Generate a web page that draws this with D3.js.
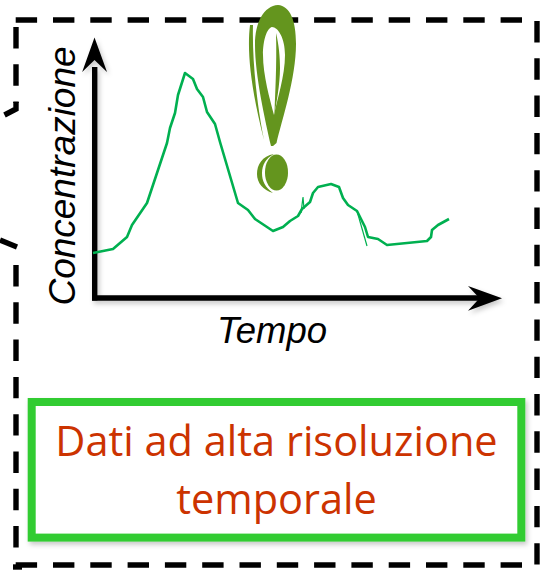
<!DOCTYPE html>
<html>
<head>
<meta charset="utf-8">
<script src="https://cdn.jsdelivr.net/npm/d3@7"></script>
<style>
  html, body { margin: 0; padding: 0; background: #fff; }
  svg { display: block; }
</style>
</head>
<body>
<svg id="chart"></svg>
<script>
// values, arbitrary units (the chart has no ticks)
const timeValues = [0, 20, 34, 39, 54, 74, 77, 82, 85, 92, 100, 104, 110, 114, 122, 127, 145, 155, 162, 180, 190, 197, 205, 209, 217, 220, 225, 238, 246, 250, 255, 264, 272, 275, 285, 294, 334, 338, 339, 345, 356];
const concValues = [44, 48, 60, 72, 94, 154, 169, 184, 202, 224, 218, 208, 200, 185, 173, 155, 94, 87, 78, 66, 70, 76, 81, 88, 95, 104, 110, 113, 110, 99, 92, 86, 70, 60, 58, 52, 56, 60, 67, 72, 78];
// two thin stray strokes in the drawn curve
const spikeTime = [208, 210, 211];
const spikeConc = [84, 100, 88];
const tailTime = [264, 274];
const tailConc = [86, 51];

const xAxisLabel = "Tempo";
const yAxisLabel = "Concentrazione";
const captionLines = ["Dati ad alta risoluzione", "temporale"];

const width = 540, height = 570;
const origin = {x: 93, y: 297};

const svg = d3.select("#chart").attr("width", width).attr("height", height);

const xScale = d3.scaleLinear().domain([0, 407]).range([origin.x, origin.x + 407]);
const yScale = d3.scaleLinear().domain([0, 250]).range([origin.y, origin.y - 250]);

const defs = svg.append("defs");
const shadow = defs.append("filter").attr("id", "shadow")
    .attr("x", "-5%").attr("y", "-5%").attr("width", "115%").attr("height", "115%");
shadow.append("feDropShadow")
    .attr("dx", 2).attr("dy", 3).attr("stdDeviation", 2.5)
    .attr("flood-color", "#000").attr("flood-opacity", 0.22);

// dashed frame, broken on the left side
const frame = svg.append("g")
    .attr("fill", "none").attr("stroke", "#000").attr("stroke-width", 5.4);
const frameLines = [
  [[15.7, 20], [523, 20]],
  [[537, 21], [537, 570]],
  [[15.7, 565], [523, 565]],
  [[16, 27], [16, 103]],
  [[16, 265], [16, 552]],
];
frameLines.forEach(l => {
  frame.append("path")
      .attr("d", d3.line()(l))
      .attr("stroke-dasharray", "21.4,15.9");
});
frame.append("path").attr("d", "M16,102L16,109L4.5,115");
frame.append("path").attr("d", "M0,240L17,247");
frame.append("path").attr("d", "M13,567L22,567");

// axes
const axes = svg.append("g").attr("filter", "url(#shadow)");
axes.append("path")
    .attr("d", d3.line()([[xScale(1.7), yScale(-3.5)], [xScale(1.7), yScale(230)]]))
    .attr("fill", "none").attr("stroke", "#000").attr("stroke-width", 5.4);
axes.append("path")
    .attr("d", d3.line()([[xScale(-1), yScale(-1)], [xScale(390), yScale(-1)]]))
    .attr("fill", "none").attr("stroke", "#000").attr("stroke-width", 5.4);
axes.append("path").attr("d", "M94.5,37.5L82.2,72L94.5,60L107,72Z").attr("fill", "#000");
axes.append("path").attr("d", "M502,298.3L468,286L479.5,298.3L468,310.7Z").attr("fill", "#000");

// the curve
const line = d3.line().x(d => xScale(d[0])).y(d => yScale(d[1]));
const pairs = (xs, ys) => xs.map((x, i) => [x, ys[i]]);
svg.append("path")
    .attr("d", line(pairs(timeValues, concValues)))
    .attr("fill", "none").attr("stroke", "#00b050").attr("stroke-width", 2.6)
    .attr("stroke-linejoin", "round");
svg.append("path")
    .attr("d", line(pairs(spikeTime, spikeConc)))
    .attr("fill", "none").attr("stroke", "#00b050").attr("stroke-width", 1.2);
svg.append("path")
    .attr("d", line(pairs(tailTime, tailConc)))
    .attr("fill", "none").attr("stroke", "#00b050").attr("stroke-width", 1.2);

// exclamation mark
const mark = svg.append("g").attr("fill", "#64951e");
mark.append("path")
    .attr("fill-rule", "evenodd")
    .attr("d", "M278,5C264,6 255,22 255,45C255,75 265,120 271,146L273,146L276.5,143C282,120 296,78 296,44C296,20 290,6 278,5Z"
      + "M272,27C267,28 263,40 263,55C263,75 270,100 274,115C277,100 285,76 285,55C285,38 278,27 272,27Z");
mark.append("path")
    .attr("d", "M276,33C279,45 280,58 280,68C280,85 276,105 274.5,114C275,95 277,65 276,33Z");
mark.append("path")
    .attr("d", "M250,25C247,50 250,85 264,140C257,105 252,60 253,25Z");
mark.append("ellipse")
    .attr("cx", 276.5).attr("cy", 172.5).attr("rx", 11.5).attr("ry", 18);
mark.append("path")
    .attr("d", "M274,154C262,156 257,165 257,174C257,183 263,190 273,193C265,187 262,181 262,173C262,165 266,158 274,154Z");

// axis titles
svg.append("text")
    .attr("x", xScale(179)).attr("y", 343)
    .attr("text-anchor", "middle")
    .attr("font-family", "Liberation Sans").attr("font-style", "italic").attr("font-size", 36.5)
    .text(xAxisLabel);
svg.append("text")
    .attr("transform", "translate(75,176) rotate(-90)")
    .attr("text-anchor", "middle")
    .attr("font-family", "Liberation Sans").attr("font-style", "italic").attr("font-size", 37)
    .text(yAxisLabel);

// caption box
svg.append("rect")
    .attr("x", 31.7).attr("y", 402).attr("width", 489.6).attr("height", 135.6)
    .attr("fill", "#fff").attr("stroke", "#33cc33").attr("stroke-width", 8)
    .attr("filter", "url(#shadow)");
svg.selectAll(".caption")
    .data(captionLines)
  .join("text")
    .attr("class", "caption")
    .attr("x", 276.5).attr("y", (d, i) => 456 + i * 58)
    .attr("text-anchor", "middle")
    .attr("font-family", "Open Sans").attr("font-size", 41.5).attr("fill", "#cc3300")
    .text(d => d);
</script>
</body>
</html>
